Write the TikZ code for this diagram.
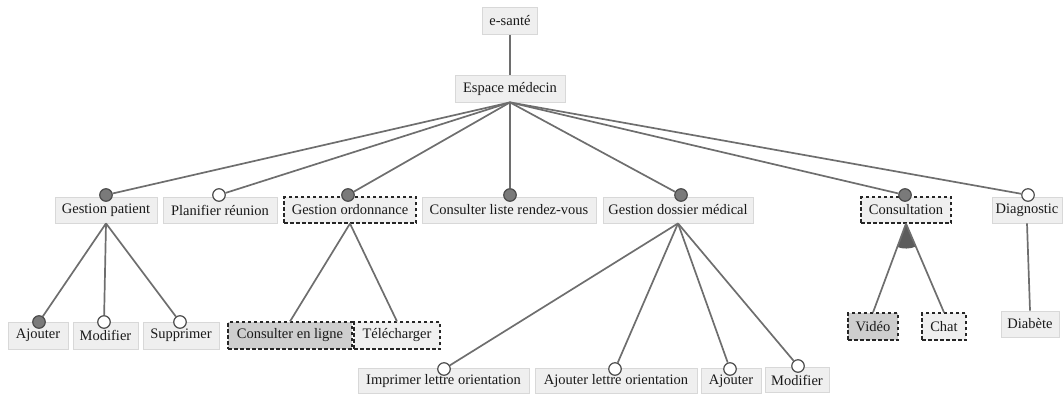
\documentclass[tikz,border=0pt]{standalone}
\usepackage{fontspec}
\setmainfont{Liberation Serif}
\begin{document}
\begin{tikzpicture}[x=1pt,y=-1pt,
  feat/.style={draw=boxline, fill=boxfill, line width=0.8pt, inner sep=0pt,
    minimum height=26pt, font=\fontsize{14.5}{17}\selectfont, text=black!90},
  abstractfeat/.style={feat, draw=black!85, dashed, dash pattern=on 3.5pt off 2.5pt, line width=1.1pt},
  picked/.style={fill=pickfill},
  link/.style={draw=linkgray, line width=1.7pt},
  mand/.style={circle, draw=dotline, fill=dotfill, line width=1.2pt, minimum size=12.5pt, inner sep=0pt},
  opt/.style={circle, draw=dotline, fill=white, line width=1.2pt, minimum size=12.5pt, inner sep=0pt}]
\definecolor{boxfill}{HTML}{EFEFEF}
\definecolor{boxline}{HTML}{D8D8D8}
\definecolor{pickfill}{HTML}{CECECE}
\definecolor{linkgray}{HTML}{6E6E6E}
\definecolor{dotfill}{HTML}{7A7A7A}
\definecolor{dotline}{HTML}{4C4C4C}
\definecolor{groupfill}{HTML}{5C5C5C}
\useasboundingbox (0,0) rectangle (1064,394);

% root and main area
\node[feat, minimum width=55pt, minimum height=27pt] (root) at (510,21) {e-santé};
\node[feat, minimum width=110pt, minimum height=27pt] (esp) at (510,88.5) {Espace médecin};
\draw[link] (root.south) -- (esp.north);

% first level
\node[feat, minimum width=102pt] (gp) at (106,210) {Gestion patient};
\node[feat, minimum width=114pt] (pr) at (220,210) {Planifier réunion};
\node[abstractfeat, minimum width=132pt] (go) at (350,210) {Gestion ordonnance};
\node[feat, minimum width=174pt] (cl) at (509,210) {Consulter liste rendez-vous};
\node[feat, minimum width=150pt] (gd) at (678,210) {Gestion dossier médical};
\node[abstractfeat, minimum width=90pt] (cons) at (906,210) {Consultation};
\node[feat, minimum width=70pt] (diag) at (1027,210) {Diagnostic};

\node[mand] (dgp) at (106,195) {};
\node[opt]  (dpr) at (219,195) {};
\node[mand] (dgo) at (348,195) {};
\node[mand] (dcl) at (510,195) {};
\node[mand] (dgd) at (681,195) {};
\node[mand] (dcons) at (905,195) {};
\node[opt]  (ddiag) at (1028,195) {};

\foreach \d in {dgp,dpr,dgo,dcl,dgd,dcons,ddiag}
  \draw[link] (esp.south) -- (\d);

% patient management
\node[feat, minimum width=60pt, minimum height=27pt] (aj) at (38,335.5) {Ajouter};
\node[feat, minimum width=65pt, minimum height=27pt] (mo) at (105.5,335.5) {Modifier};
\node[feat, minimum width=76pt, minimum height=27pt] (su) at (181,335.5) {Supprimer};
\node[mand] (daj) at (39,322) {};
\node[opt]  (dmo) at (104,322) {};
\node[opt]  (dsu) at (180,322) {};
\foreach \d in {daj,dmo,dsu}
  \draw[link] (gp.south) -- (\d);

% prescriptions
\node[abstractfeat, picked, minimum width=124pt, minimum height=27pt] (cel) at (290,335.5) {Consulter en ligne};
\node[abstractfeat, minimum width=86pt, minimum height=27pt] (tel) at (397,335.5) {Télécharger};
\draw[link] (go.south) -- (cel.north);
\draw[link] (go.south) -- (tel.north);

% medical record
\node[feat, minimum width=171pt, minimum height=25pt] (ilo) at (443.5,381) {Imprimer lettre orientation};
\node[feat, minimum width=162pt, minimum height=25pt] (alo) at (616,381) {Ajouter lettre orientation};
\node[feat, minimum width=60pt, minimum height=25pt] (aj2) at (731,381) {Ajouter};
\node[feat, minimum width=64pt, minimum height=25pt] (mo2) at (797,380) {Modifier};
\node[opt] (dilo) at (444,369) {};
\node[opt] (dalo) at (615,369) {};
\node[opt] (daj2) at (730,369) {};
\node[opt] (dmo2) at (798,366) {};
\foreach \d in {dilo,dalo,daj2,dmo2}
  \draw[link] (gd.south) -- (\d);

% consultation alternatives
\node[abstractfeat, picked, minimum width=50pt, minimum height=27pt] (vid) at (873,326.5) {Vidéo};
\node[abstractfeat, minimum width=44pt, minimum height=27pt] (chat) at (944,326.5) {Chat};
\fill[groupfill] (cons.south) -- ++(-110.3:25pt) arc[start angle=-110.3, end angle=-67.4, radius=25pt] -- cycle;
\draw[link] (cons.south) -- (vid.north);
\draw[link] (cons.south) -- (chat.north);

% diagnostic
\node[feat, minimum width=58pt, minimum height=26pt] (diab) at (1030,324) {Diabète};
\draw[link] (diag.south) -- (diab.north);
\end{tikzpicture}
\end{document}
